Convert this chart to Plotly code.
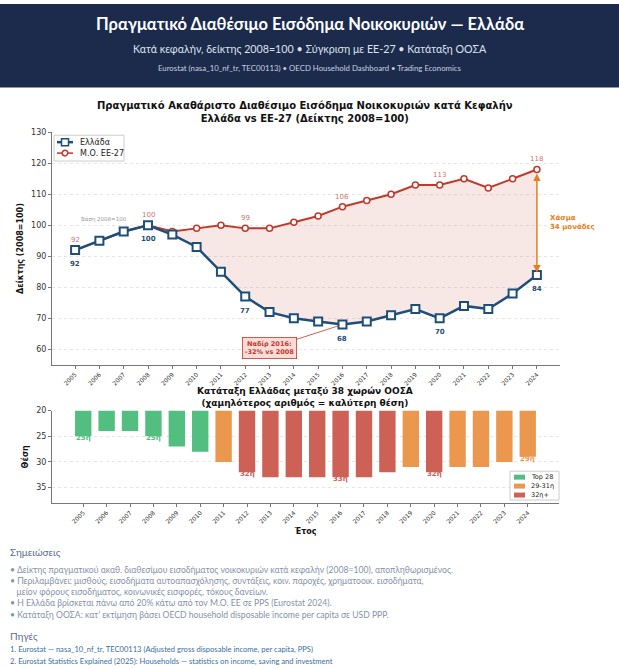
import plotly.graph_objects as go

W, H = 619, 669

years = list(range(2005, 2025))
greece = [92, 95, 98, 100, 97, 93, 85, 77, 72, 70, 69, 68, 69, 71, 73, 70, 74, 73, 78, 84]
eu27 = [92, 95, 98, 100, 98, 99, 100, 99, 99, 101, 103, 106, 108, 110, 113, 113, 115, 112, 115, 118]
oecd_rank = [25, 24, 24, 25, 27, 28, 30, 32, 33, 33, 33, 33, 33, 32, 31, 32, 31, 31, 30, 29]
label_years = [2005, 2008, 2012, 2016, 2020, 2024]

NAVY = "#1c2a4b"
BLUE = "#1f4e79"
RED = "#c0392b"
ORANGE = "#e67e22"
BAR_GREEN = "#52be80"
BAR_ORANGE = "#eb984e"
BAR_RED = "#cd6155"
CHART_FONT = "DejaVu Sans"
PAGE_FONT = "Lato, 'Open Sans', sans-serif"


def px_x(p):
    return p / W


def px_y(p):
    return 1 - p / H


def text_at(x, y, text, size, color, family=PAGE_FONT, anchor="left"):
    return dict(x=px_x(x), y=px_y(y), xref="paper", yref="paper", xanchor=anchor,
                yanchor="middle", showarrow=False, text=text,
                font=dict(family=family, size=size, color=color))


fig = go.Figure()

# fill between the two series (greece as invisible base)
fig.add_trace(go.Scatter(x=years, y=greece, mode="lines", line=dict(width=0),
                         showlegend=False, hoverinfo="skip"))
fig.add_trace(go.Scatter(x=years, y=eu27, mode="lines+markers", name="Μ.Ο. ΕΕ-27",
                         fill="tonexty", fillcolor="rgba(192,57,43,0.12)",
                         line=dict(color=RED, width=2),
                         marker=dict(symbol="circle", size=6, color="white",
                                     line=dict(color=RED, width=1.5))))
fig.add_trace(go.Scatter(x=years, y=greece, mode="lines+markers", name="Ελλάδα",
                         line=dict(color=BLUE, width=2.5),
                         marker=dict(symbol="square", size=8, color="white",
                                     line=dict(color=BLUE, width=2))))

# OECD ranking bars, grouped by band
bands = [("Top 28", BAR_GREEN, lambda r: r <= 28),
         ("29-31η", BAR_ORANGE, lambda r: 29 <= r <= 31),
         ("32η+", BAR_RED, lambda r: r >= 32)]
for name, color, test in bands:
    xs = [y for y, r in zip(years, oecd_rank) if test(r)]
    rs = [r for r in oecd_rank if test(r)]
    fig.add_trace(go.Bar(x=xs, y=[r - 20 for r in rs], base=20, name=name,
                         marker=dict(color=color, line=dict(width=0)),
                         width=0.7, xaxis="x2", yaxis="y2"))


def rank_color(r):
    for _, color, test in bands:
        if test(r):
            return color


ann = []
for yr in label_years:
    i = years.index(yr)
    ann.append(dict(x=yr, y=greece[i], text=f"<b>{greece[i]}</b>", showarrow=False,
                    yshift=-14, font=dict(family=CHART_FONT, size=7, color=BLUE)))
    ann.append(dict(x=yr, y=eu27[i], text=str(eu27[i]), showarrow=False, yshift=10,
                    font=dict(family=CHART_FONT, size=7, color="rgba(192,57,43,0.75)")))
    ann.append(dict(x=yr, y=oecd_rank[i], xref="x2", yref="y2", text=f"<b>{oecd_rank[i]}η</b>",
                    showarrow=False, yshift=-2,
                    font=dict(family=CHART_FONT, size=7, color=rank_color(oecd_rank[i]))))

ann.append(dict(x=2006.2, y=101.9, text="Βάση 2008=100", showarrow=False,
                font=dict(family=CHART_FONT, size=5.5, color="#999")))

# gap arrow
gap = eu27[-1] - greece[-1]
ann.append(dict(x=years[-1], y=greece[-1] + 0.8, ax=years[-1], ay=eu27[-1] - 0.8,
                axref="x", ayref="y", text="", showarrow=True, arrowhead=2,
                arrowside="end+start", arrowsize=1, arrowwidth=1.5, arrowcolor=ORANGE))
ann.append(dict(x=years[-1] + 0.45, y=(eu27[-1] + greece[-1]) / 2, xanchor="left",
                text=f"<b>Χάσμα<br>{gap} μονάδες</b>", showarrow=False, align="left",
                font=dict(family=CHART_FONT, size=7, color=ORANGE)))

# nadir
low = min(greece)
low_year = years[greece.index(low)]
ann.append(dict(x=low_year, y=low, ax=2013, ay=60.4, axref="x", ayref="y",
                text=f"<b>Ναδίρ {low_year}:<br>{low - 100}% vs 2008</b>", showarrow=True,
                arrowhead=0, arrowwidth=0.8, arrowcolor=RED, standoff=3,
                bgcolor="#f9dcd8", bordercolor=RED, borderwidth=0.8, borderpad=2,
                font=dict(family=CHART_FONT, size=6.5, color=RED)))

# header and chart titles
ann += [
    text_at(309.5, 20, "<b>Πραγματικό Διαθέσιμο Εισόδημα Νοικοκυριών — Ελλάδα</b>", 16.5,
            "white", anchor="center"),
    text_at(309.5, 45, "Κατά κεφαλήν, δείκτης 2008=100 • Σύγκριση με ΕΕ-27 • Κατάταξη ΟΟΣΑ",
            10.7, "#dde3ee", anchor="center"),
    text_at(309.5, 64, "Eurostat (nasa_10_nf_tr, TEC00113) • OECD Household Dashboard • Trading Economics",
            7.8, "#c9d1e0", anchor="center"),
    text_at(305, 109, "<b>Πραγματικό Ακαθάριστο Διαθέσιμο Εισόδημα Νοικοκυριών κατά Κεφαλήν<br>"
                      "Ελλάδα vs ΕΕ-27 (Δείκτης 2008=100)</b>", 10, "#111", CHART_FONT, "center"),
    text_at(305, 395, "<b>Κατάταξη Ελλάδας μεταξύ 38 χωρών ΟΟΣΑ<br>"
                      "(χαμηλότερος αριθμός = καλύτερη θέση)</b>", 9, "#111", CHART_FONT, "center"),
]

# notes
notes = [
    "• Δείκτης πραγματικού ακαθ. διαθεσίμου εισοδήματος νοικοκυριών κατά κεφαλήν (2008=100), αποπληθωρισμένος.",
    "• Περιλαμβάνει: μισθούς, εισοδήματα αυτοαπασχόλησης, συντάξεις, κοιν. παροχές, χρηματοοικ. εισοδήματα,",
    "   μείον φόρους εισοδήματος, κοινωνικές εισφορές, τόκους δανείων.",
    "• Η Ελλάδα βρίσκεται πάνω από 20% κάτω από τον Μ.Ο. ΕΕ σε PPS (Eurostat 2024).",
    "• Κατάταξη ΟΟΣΑ: κατ’ εκτίμηση βάσει OECD household disposable income per capita σε USD PPP.",
]
sources = [
    "1. Eurostat — nasa_10_nf_tr, TEC00113 (Adjusted gross disposable income, per capita, PPS)",
    "2. Eurostat Statistics Explained (2025): Households — statistics on income, saving and investment",
]
ann.append(text_at(8, 551, "Σημειώσεις", 10, "#5a6f8f"))
for k, line in enumerate(notes):
    ann.append(text_at(8, 569 + k * 11.3, line, 8.6, "#8492a8"))
ann.append(text_at(8, 636, "Πηγές", 10, "#5a6f8f"))
for k, line in enumerate(sources):
    ann.append(text_at(8, 649 + k * 12, line, 7.6, "#3a6ea5"))

# hand-drawn legends (plotly's legend rows are too tall for this layout)
shapes = [dict(type="rect", xref="paper", yref="paper", x0=0, x1=1,
               y0=px_y(84), y1=1, fillcolor=NAVY, line=dict(width=0), layer="below")]


def pshape(kind, x0, y0, x1, y1, **kw):
    return dict(type=kind, xref="paper", yref="paper", x0=px_x(x0), x1=px_x(x1),
                y0=px_y(y0), y1=px_y(y1), **kw)


shapes.append(pshape("rect", 54, 132, 124, 158, fillcolor="rgba(255,255,255,0.9)",
                     line=dict(color="#cccccc", width=1)))
legend_top = [("Ελλάδα", BLUE, "rect", 3.5, 2.5), ("Μ.Ο. ΕΕ-27", RED, "circle", 2.8, 1.5)]
for k, (name, color, kind, half, lw) in enumerate(legend_top):
    yy = 139 + k * 11
    shapes.append(pshape("line", 57, yy, 73, yy, line=dict(color=color, width=lw)))
    shapes.append(pshape(kind, 65 - half, yy - half, 65 + half, yy + half, fillcolor="white",
                         line=dict(color=color, width=1.5)))
    ann.append(text_at(78, yy, name, 8, "#222", CHART_FONT))

shapes.append(pshape("rect", 510, 470, 559, 499, fillcolor="rgba(255,255,255,0.9)",
                     line=dict(color="#cccccc", width=1)))
for k, (name, color, _) in enumerate(bands):
    yy = 476 + k * 9
    shapes.append(pshape("rect", 514, yy - 2.5, 525, yy + 2.5, fillcolor=color,
                         line=dict(width=0)))
    ann.append(text_at(529, yy, name, 6.5, "#222", CHART_FONT))

axis_common = dict(showline=True, linecolor="#777", linewidth=1, ticks="outside",
                   ticklen=3, tickcolor="#777", zeroline=False)
yfont = dict(family=CHART_FONT, size=8, color="#333")
xticks = dict(tickvals=years, ticktext=[str(y) for y in years], tickangle=-45,
              tickfont=dict(family=CHART_FONT, size=6, color="#333"), showgrid=False)

fig.update_layout(
    width=W, height=H, margin=dict(l=0, r=0, t=0, b=0),
    paper_bgcolor="white", plot_bgcolor="white",
    showlegend=False,
    shapes=shapes,
    annotations=ann,
    xaxis=dict(domain=[px_x(52), px_x(560)], range=[2004.05, 2024.95], **axis_common, **xticks),
    yaxis=dict(domain=[px_y(363), px_y(129)], range=[55, 130], tickvals=list(range(60, 131, 10)),
               showgrid=True, gridcolor="#e6e6e6", griddash="dot", tickfont=yfont,
               title=dict(text="<b>Δείκτης (2008=100)</b>", standoff=6,
                          font=dict(family=CHART_FONT, size=8, color="#111")),
               **axis_common),
    xaxis2=dict(domain=[px_x(52), px_x(559)], range=[2003.665, 2025.335], anchor="y2",
                title=dict(text="<b>Έτος</b>", standoff=4,
                           font=dict(family=CHART_FONT, size=8, color="#111")),
                **axis_common, **xticks),
    yaxis2=dict(domain=[px_y(502), px_y(409)], range=[38, 20], tickvals=[20, 25, 30, 35],
                anchor="x2", showgrid=True, gridcolor="#e6e6e6", griddash="dot", tickfont=yfont,
                title=dict(text="<b>Θέση</b>", standoff=6,
                           font=dict(family=CHART_FONT, size=8, color="#111")),
                **axis_common),
)

fig.write_html("out.html", config={"displayModeBar": False},
               post_script="document.body.style.margin='0';")
